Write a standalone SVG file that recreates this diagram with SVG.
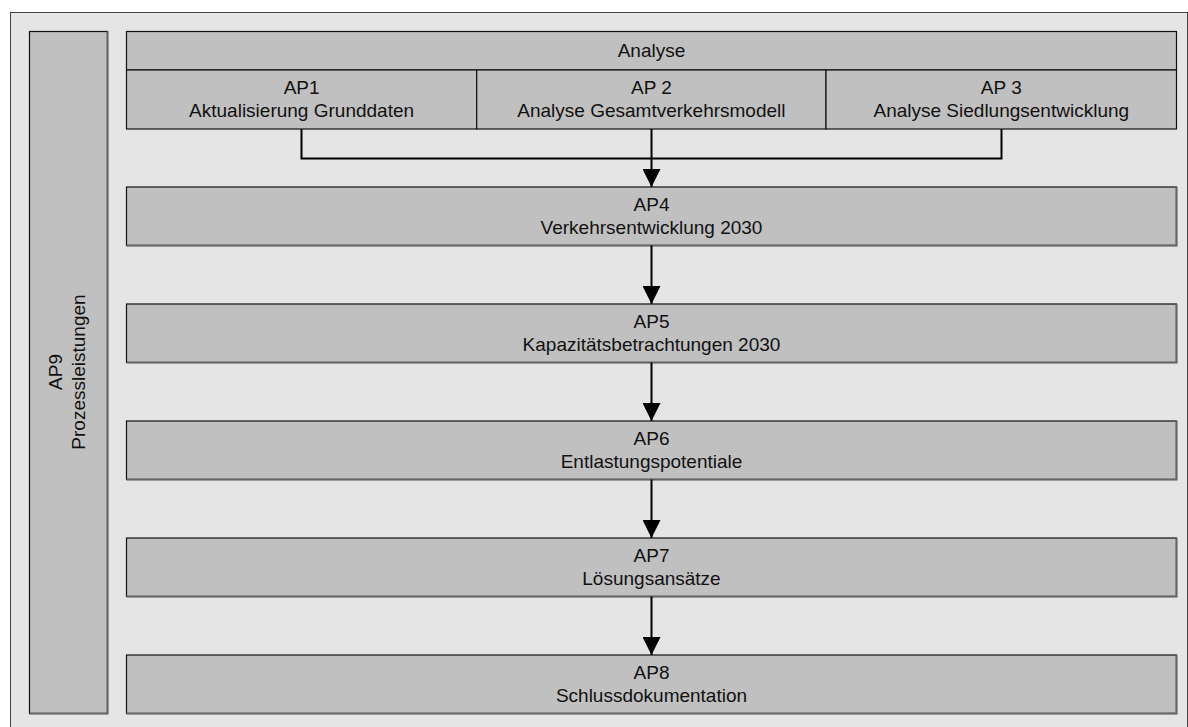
<svg xmlns="http://www.w3.org/2000/svg" width="1188" height="727" viewBox="0 0 1188 727">
<style>
.box{fill:#c0c0c0;stroke:#111;stroke-width:1.2}
.sh{stroke:#666;stroke-width:2;fill:none}
.t{font-family:"Liberation Sans",Arial,sans-serif;font-size:19px;fill:#111;text-anchor:middle}
.c{fill:none;stroke:#000;stroke-width:2}
</style>
<defs>
<marker id="ah" markerUnits="userSpaceOnUse" markerWidth="18" markerHeight="18" refX="18" refY="9" orient="auto">
<path d="M0,0 L18,9 L0,18 z" fill="#000"/>
</marker>
</defs>
<rect x="0" y="0" width="1188" height="727" fill="#fff"/>
<rect id="frame" x="10.5" y="12.5" width="1177" height="730" fill="#e5e5e5" stroke="#444" stroke-width="1"/>

<g id="ap9">
<rect x="29.5" y="31.5" width="78" height="682" class="box" stroke="#444"/>
<path d="M29.5,713.5 H107.5 V31.5" class="sh"/>
<text class="t" transform="translate(62,372) rotate(-90)"><tspan x="0" y="0">AP9</tspan><tspan x="0" y="23">Prozessleistungen</tspan></text>
</g>

<g id="analyse">
<rect x="126.5" y="31.5" width="1050" height="38.5" class="box"/>
<text class="t" x="651.5" y="57">Analyse</text>
</g>

<g id="ap1">
<rect x="126.5" y="70" width="350.2" height="59" class="box"/>
<text class="t" x="301.6" y="93.5">AP1</text>
<text class="t" x="301.6" y="116.5">Aktualisierung Grunddaten</text>
</g>

<g id="ap2">
<rect x="476.7" y="70" width="349.3" height="59" class="box"/>
<text class="t" x="651.4" y="93.5">AP 2</text>
<text class="t" x="651.4" y="116.5">Analyse Gesamtverkehrsmodell</text>
</g>

<g id="ap3">
<rect x="826" y="70" width="350.5" height="59" class="box"/>
<text class="t" x="1001.3" y="93.5">AP 3</text>
<text class="t" x="1001.3" y="116.5">Analyse Siedlungsentwicklung</text>
</g>

<g id="ap4">
<rect x="126.5" y="187" width="1050" height="58.5" class="box"/>
<path d="M126.5,245.5 H1176.5 V187" class="sh"/>
<text class="t" x="651.5" y="210.5">AP4</text>
<text class="t" x="651.5" y="233.5">Verkehrsentwicklung 2030</text>
</g>

<g id="ap5">
<rect x="126.5" y="304" width="1050" height="58.5" class="box"/>
<path d="M126.5,362.5 H1176.5 V304" class="sh"/>
<text class="t" x="651.5" y="327.5">AP5</text>
<text class="t" x="651.5" y="350.5">Kapazitätsbetrachtungen 2030</text>
</g>

<g id="ap6">
<rect x="126.5" y="421" width="1050" height="58.5" class="box"/>
<path d="M126.5,479.5 H1176.5 V421" class="sh"/>
<text class="t" x="651.5" y="444.5">AP6</text>
<text class="t" x="651.5" y="467.5">Entlastungspotentiale</text>
</g>

<g id="ap7">
<rect x="126.5" y="538" width="1050" height="58.5" class="box"/>
<path d="M126.5,596.5 H1176.5 V538" class="sh"/>
<text class="t" x="651.5" y="561.5">AP7</text>
<text class="t" x="651.5" y="584.5">Lösungsansätze</text>
</g>

<g id="ap8">
<rect x="126.5" y="655" width="1050" height="58.5" class="box"/>
<path d="M126.5,713.5 H1176.5 V655" class="sh"/>
<text class="t" x="651.5" y="678.5">AP8</text>
<text class="t" x="651.5" y="701.5">Schlussdokumentation</text>
</g>

<g id="connectors">
<path d="M301.5,129 V158.5 H1001.5 V129" class="c"/>
<path d="M651.5,129 V187" class="c" marker-end="url(#ah)"/>
<path d="M651.5,245.5 V304" class="c" marker-end="url(#ah)"/>
<path d="M651.5,362.5 V421" class="c" marker-end="url(#ah)"/>
<path d="M651.5,479.5 V538" class="c" marker-end="url(#ah)"/>
<path d="M651.5,596.5 V655" class="c" marker-end="url(#ah)"/>
</g>
</svg>
